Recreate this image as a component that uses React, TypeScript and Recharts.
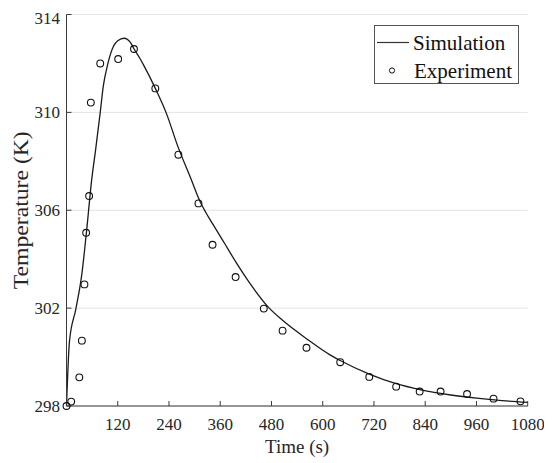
import React from 'react';
import {
  ComposedChart,
  Line,
  Scatter,
  XAxis,
  YAxis,
  CartesianGrid,
  Legend,
  Label,
} from 'recharts';

// Simulation curve (time in s, temperature in K)
const simTime = [0, 7, 22, 36, 47, 59, 68, 79, 86, 97, 110, 120, 135, 150, 158, 172, 180, 208, 233, 262, 290, 313, 325, 342, 370, 396, 430, 472, 506, 562, 618, 641, 709, 770, 830, 900, 960, 1020, 1080];
const simTemp = [298.0, 300.65, 301.97, 303.4, 305.15, 307.25, 308.45, 310.0, 311.05, 312.0, 312.7, 312.93, 313.03, 312.85, 312.6, 312.2, 311.95, 310.98, 310.0, 308.55, 307.35, 306.35, 305.95, 305.45, 304.65, 303.9, 303.0, 302.05, 301.5, 300.75, 300.08, 299.86, 299.3, 298.92, 298.66, 298.45, 298.32, 298.22, 298.15];

// Experiment points
const expTime = [0, 11, 30, 36, 42, 46, 53, 57, 79, 121, 158, 208, 262, 309, 342, 396, 462, 506, 562, 641, 709, 772, 827, 876, 938, 1000, 1063];
const expTemp = [298.0, 298.18, 299.17, 300.67, 302.97, 305.08, 306.58, 310.4, 312.0, 312.18, 312.59, 310.98, 308.27, 306.28, 304.59, 303.27, 301.98, 301.08, 300.38, 299.79, 299.19, 298.79, 298.59, 298.59, 298.49, 298.3, 298.19];

const xTicks = [120, 240, 360, 480, 600, 720, 840, 960, 1080];
const yTicks = [298, 302, 306, 310, 314];

const simData = simTime.map((t, i) => ({ t, T: simTemp[i] }));
const expData = expTime.map((t, i) => ({ t, T: expTemp[i] }));

const FONT = '"Liberation Serif", "Times New Roman", serif';
const AXIS = '#3a3a3a';
const TEXT = '#262626';

const Circle = (props: any) => {
  const { cx, cy } = props;
  if (cx == null || cy == null) return null;
  return <circle cx={cx} cy={cy} r={3.4} fill="none" stroke="#111" strokeWidth={1.1} />;
};

const YTick = (props: any) => {
  const { x, y, payload } = props;
  const isTop = payload.value === yTicks[yTicks.length - 1];
  return (
    <text
      x={x}
      y={y + (isTop ? 3.5 : 0)}
      dy="0.35em"
      textAnchor="end"
      fill={TEXT}
      fontSize={17}
      fontFamily={FONT}
    >
      {payload.value}
    </text>
  );
};

const YLabel = (props: any) => {
  const vb = props.viewBox || {};
  const cx = (vb.x || 0) + 20;
  const cy = (vb.y || 0) + (vb.height || 0) / 2;
  return (
    <text
      x={cx}
      y={cy}
      transform={`rotate(-90, ${cx}, ${cy})`}
      textAnchor="middle"
      fill={TEXT}
      fontSize={20}
      fontFamily={FONT}
      textLength={158}
      lengthAdjust="spacingAndGlyphs"
    >
      Temperature (K)
    </text>
  );
};

const LegendBox = () => (
  <svg width={145} height={59} style={{ display: 'block' }}>
    <rect x={0.5} y={0.5} width={144} height={58} fill="#fff" stroke="#555" strokeWidth={1} />
    <line x1={3} y1={17.5} x2={35} y2={17.5} stroke="#333" strokeWidth={1.2} />
    <text x={39} y={17.5} dy="0.34em" fontFamily={FONT} fontSize={21} fill="#111">Simulation</text>
    <circle cx={18} cy={45.5} r={2.6} fill="none" stroke="#111" strokeWidth={1} />
    <text x={40} y={45.5} dy="0.34em" fontFamily={FONT} fontSize={21} fill="#111">Experiment</text>
  </svg>
);

export default function App() {
  return (
    <ComposedChart
      width={544}
      height={455}
      margin={{ top: 6.5, right: 24.3, bottom: 0, left: 0 }}
      style={{ fontFamily: FONT, background: '#fff' }}
    >
      <CartesianGrid vertical={false} stroke="#e3e3e3" strokeWidth={1} />
      <XAxis
        dataKey="t"
        type="number"
        domain={[0, 1080]}
        ticks={xTicks}
        height={57}
        tickSize={-5}
        tickMargin={17}
        stroke={AXIS}
        tick={{ fill: TEXT, fontSize: 17, fontFamily: FONT }}
        interval={0}
      >
        <Label value="Time (s)" position="insideBottom" offset={10} style={{ fill: TEXT, fontSize: 19, fontFamily: FONT }} />
      </XAxis>
      <XAxis
        xAxisId="top"
        orientation="top"
        type="number"
        domain={[0, 1080]}
        ticks={xTicks}
        height={0}
        tickSize={-5}
        tick={false}
        stroke={AXIS}
        interval={0}
      />
      <YAxis
        type="number"
        domain={[298, 314]}
        ticks={yTicks}
        width={58.5}
        tickSize={-5}
        tickMargin={11.5}
        stroke={AXIS}
        tick={<YTick />}
        interval={0}
      >
        <Label content={<YLabel />} />
      </YAxis>
      <YAxis
        yAxisId="right"
        orientation="right"
        type="number"
        domain={[298, 314]}
        ticks={yTicks}
        width={0}
        tickSize={-5}
        tick={false}
        stroke={AXIS}
        interval={0}
      />
      <Line
        data={simData}
        dataKey="T"
        type="monotone"
        stroke="#1a1a1a"
        strokeWidth={1.3}
        dot={false}
        activeDot={false}
        isAnimationActive={false}
        legendType="line"
        name="Simulation"
      />
      <Scatter
        data={expData}
        dataKey="T"
        shape={<Circle />}
        isAnimationActive={false}
        name="Experiment"
      />
      <Legend
        layout="vertical"
        align="center"
        verticalAlign="middle"
        content={() => <LegendBox />}
        wrapperStyle={{ position: 'absolute', left: 366, top: 17, width: 145, height: 59 }}
      />
    </ComposedChart>
  );
}
